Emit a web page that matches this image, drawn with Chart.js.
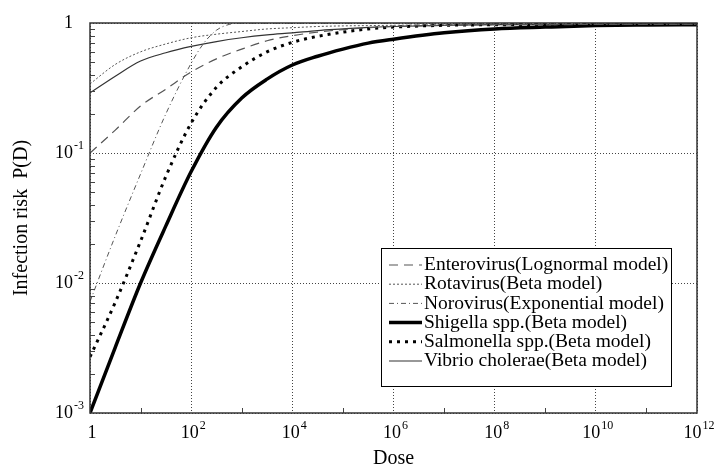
<!DOCTYPE html>
<html>
<head>
<meta charset="utf-8">
<script src="https://cdn.jsdelivr.net/npm/chart.js@4.4.1/dist/chart.umd.min.js"></script>
<style>
  html, body { margin: 0; padding: 0; background: #fff; }
  #wrap { width: 720px; height: 468px; }
</style>
</head>
<body>
<div id="wrap"><canvas id="riskChart" width="720" height="468"></canvas></div>
<script>
// Dose values (shared by most curves)
const doses = [1, 3.16, 10, 31.6, 100, 316, 1e3, 3.16e3, 1e4, 3.16e4, 1e5, 3.16e5, 1e6, 1e7, 1e8, 1e9, 1e10, 1e11, 1e12];

// Infection risk
const enterovirus = [0.10, 0.15, 0.23, 0.31, 0.42, 0.53, 0.63, 0.73, 0.80, 0.85, 0.89, 0.92, 0.94, 0.96, 0.97, 0.97, 0.975, 0.975, 0.975];
const rotavirus   = [0.34, 0.48, 0.60, 0.69, 0.77, 0.82, 0.86, 0.90, 0.92, 0.94, 0.95, 0.955, 0.96, 0.97, 0.97, 0.975, 0.975, 0.975, 0.975];
const shigella    = [0.001, 0.0032, 0.010, 0.0275, 0.072, 0.158, 0.265, 0.37, 0.475, 0.555, 0.63, 0.70, 0.75, 0.84, 0.90, 0.93, 0.955, 0.965, 0.97];
const salmonella  = [0.0027, 0.0071, 0.021, 0.066, 0.17, 0.32, 0.46, 0.60, 0.71, 0.79, 0.85, 0.90, 0.93, 0.96, 0.97, 0.975, 0.98, 0.98, 0.98];
const vibrio      = [0.29, 0.39, 0.51, 0.59, 0.66, 0.72, 0.77, 0.81, 0.84, 0.875, 0.90, 0.925, 0.94, 0.96, 0.97, 0.97, 0.975, 0.975, 0.975];

// Norovirus rises quickly, so it gets its own doses
const noroDoses = [1, 3.16, 10, 31.6, 100, 178, 316, 562, 1e3, 1e12];
const norovirus = [0.0072, 0.023, 0.069, 0.20, 0.49, 0.70, 0.88, 0.975, 0.999, 0.999];

const seriesNames = [
  "Enterovirus(Lognormal model)",
  "Rotavirus(Beta model)",
  "Norovirus(Exponential model)",
  "Shigella spp.(Beta model)",
  "Salmonella spp.(Beta model)",
  "Vibrio cholerae(Beta model)"
];

// Tick labels
const xMajor = [1, 1e2, 1e4, 1e6, 1e8, 1e10, 1e12];
const xLabels = [["1", ""], ["10", "2"], ["10", "4"], ["10", "6"], ["10", "8"], ["10", "10"], ["10", "12"]];
const yMajor = [1, 0.1, 0.01, 0.001];
const yLabels = [["1", ""], ["10", "-1"], ["10", "-2"], ["10", "-3"]];
const xMinor = [1e1, 1e3, 1e5, 1e7, 1e9, 1e11];

const SERIF = "'Liberation Serif', 'Times New Roman', serif";

function pts(xs, ys) {
  return xs.map((x, i) => ({ x: x, y: ys[i] }));
}

const datasets = [
  { label: seriesNames[0], data: pts(doses, enterovirus), borderColor: "#555", borderWidth: 1.2, borderDash: [9, 6] },
  { label: seriesNames[1], data: pts(doses, rotavirus), borderColor: "#555", borderWidth: 1, borderDash: [2, 2] },
  { label: seriesNames[2], data: pts(noroDoses, norovirus), borderColor: "#555", borderWidth: 1, borderDash: [5, 3, 1, 3] },
  { label: seriesNames[3], data: pts(doses, shigella), borderColor: "#000", borderWidth: 3.5, borderDash: [] },
  { label: seriesNames[4], data: pts(doses, salmonella), borderColor: "#000", borderWidth: 3, borderDash: [3, 5] },
  { label: seriesNames[5], data: pts(doses, vibrio), borderColor: "#333", borderWidth: 1.2, borderDash: [] }
];
datasets.forEach(d => {
  d.pointRadius = 0;
  d.fill = false;
  d.cubicInterpolationMode = "monotone";
});

function drawPow(ctx, base, exp, x, y, align) {
  ctx.font = "18px " + SERIF;
  const bw = ctx.measureText(base).width;
  ctx.font = "12px " + SERIF;
  const ew = exp ? ctx.measureText(exp).width + 1 : 0;
  let start = align === "center" ? x - (bw + ew) / 2 : x - bw;
  ctx.textAlign = "left";
  ctx.textBaseline = "middle";
  ctx.font = "18px " + SERIF;
  ctx.fillText(base, start, y);
  if (exp) {
    ctx.font = "12px " + SERIF;
    ctx.fillText(exp, start + bw + 1, y - 7);
  }
}

const decor = {
  id: "decor",
  afterDraw(chart) {
    const { ctx, chartArea: a, scales } = chart;
    const xs = scales.x, ys = scales.y;
    ctx.save();
    ctx.fillStyle = "#000";

    // minor ticks
    ctx.strokeStyle = "#444";
    ctx.lineWidth = 1;
    ctx.beginPath();
    xMinor.forEach(v => {
      const px = Math.round(xs.getPixelForValue(v)) + 0.5;
      ctx.moveTo(px, a.bottom);
      ctx.lineTo(px, a.bottom - 5);
    });
    [0.001, 0.01, 0.1].forEach(dec => {
      for (let m = 2; m <= 9; m++) {
        const py = Math.round(ys.getPixelForValue(dec * m)) + 0.5;
        ctx.moveTo(a.left, py);
        ctx.lineTo(a.left + 5, py);
      }
    });
    ctx.stroke();

    // frame
    ctx.strokeStyle = "#333";
    ctx.lineWidth = 1.5;
    ctx.strokeRect(a.left, a.top, a.right - a.left, a.bottom - a.top);

    // tick labels
    xMajor.forEach((v, i) => {
      drawPow(ctx, xLabels[i][0], xLabels[i][1], xs.getPixelForValue(v) + 2, a.bottom + 20, "center");
    });
    yMajor.forEach((v, i) => {
      drawPow(ctx, yLabels[i][0], yLabels[i][1], 73, ys.getPixelForValue(v), "right");
    });

    // axis titles
    ctx.font = "20px " + SERIF;
    ctx.textAlign = "center";
    ctx.textBaseline = "middle";
    ctx.fillText("Dose", (a.left + a.right) / 2, 459);
    ctx.save();
    ctx.translate(22, (a.top + a.bottom) / 2);
    ctx.rotate(-Math.PI / 2);
    ctx.fillText("Infection risk  P(D)", 0, 0);
    ctx.restore();

    // legend
    const lx = 381, ly = 248, lw = 290, lh = 138;
    ctx.fillStyle = "#fff";
    ctx.fillRect(lx, ly, lw, lh);
    ctx.strokeStyle = "#000";
    ctx.lineWidth = 1;
    ctx.strokeRect(lx + 0.5, ly + 0.5, lw, lh);
    chart.data.datasets.forEach((d, i) => {
      const ry = ly + 17 + i * 19.2;
      ctx.save();
      ctx.strokeStyle = d.borderColor;
      ctx.lineWidth = d.borderWidth;
      ctx.setLineDash(d.borderDash);
      ctx.beginPath();
      ctx.moveTo(389, ry);
      ctx.lineTo(422, ry);
      ctx.stroke();
      ctx.restore();
      ctx.fillStyle = "#000";
      ctx.font = "19.5px " + SERIF;
      ctx.textAlign = "left";
      ctx.textBaseline = "middle";
      ctx.fillText(d.label, 424, ry);
    });
    ctx.restore();
  }
};

new Chart(document.getElementById("riskChart"), {
  type: "line",
  data: { datasets },
  options: {
    responsive: false,
    animation: false,
    layout: { padding: { left: 90, right: 23, top: 23, bottom: 55 } },
    plugins: { legend: { display: false }, tooltip: { enabled: false } },
    scales: {
      x: {
        type: "logarithmic",
        min: 1,
        max: 1e12,
        ticks: { display: false },
        grid: { color: "#444", lineWidth: 1, drawTicks: false },
        border: { display: false, dash: [1, 2] },
        afterBuildTicks: scale => { scale.ticks = xMajor.map(v => ({ value: v })); }
      },
      y: {
        type: "logarithmic",
        min: 0.001,
        max: 1,
        ticks: { display: false },
        grid: { color: "#444", lineWidth: 1, drawTicks: false },
        border: { display: false, dash: [1, 2] },
        afterBuildTicks: scale => { scale.ticks = yMajor.map(v => ({ value: v })); }
      }
    }
  },
  plugins: [decor]
});
</script>
</body>
</html>
